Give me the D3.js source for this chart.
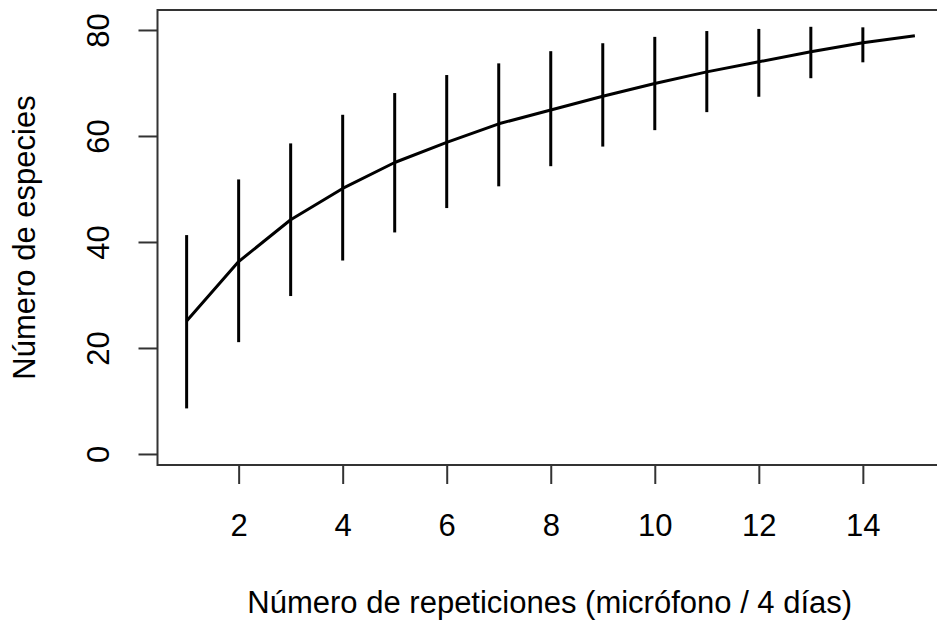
<!DOCTYPE html>
<html>
<head>
<meta charset="utf-8">
<script src="https://cdn.jsdelivr.net/npm/d3@7"></script>
<style>
  html, body { margin: 0; padding: 0; background: #fff; }
  svg { display: block; }
  text { font-family: "Liberation Sans", Arial, sans-serif; fill: #000; }
</style>
</head>
<body>
<svg id="chart" width="937" height="622"></svg>
<script>
// Data
const repetitions = [1, 2, 3, 4, 5, 6, 7, 8, 9, 10, 11, 12, 13, 14, 15];
const richness    = [25.1, 36.3, 44.2, 50.1, 55.0, 58.8, 62.3, 64.9, 67.5, 69.9, 72.1, 74.0, 75.9, 77.6, 78.9];
const upper       = [41.3, 51.8, 58.6, 64.0, 68.1, 71.5, 73.7, 76.0, 77.5, 78.7, 79.8, 80.2, 80.6, 80.5, 78.9];
const lower       = [8.6, 21.1, 29.8, 36.5, 41.8, 46.4, 50.5, 54.3, 58.0, 61.1, 64.5, 67.4, 70.9, 73.9, 78.9];
const xTicks = [2, 4, 6, 8, 10, 12, 14];
const yTicks = [0, 20, 40, 60, 80];
const xLabel = "Número de repeticiones (micrófono / 4 días)";
const yLabel = "Número de especies";

const svg = d3.select("#chart");
const FS = 31;

const ext = 0.04 * (15 - 1);
const x = d3.scaleLinear().domain([1 - ext, 15 + ext]).range([157.5, 944]);
const y = d3.scaleLinear().domain([-2.08, 83.77]).range([465, 10]);

const [x0, x1] = x.range();
const [yb, yt] = y.range();

// Error bars
svg.append("g").selectAll("line")
  .data(repetitions.map((r, i) => ({ r, lo: lower[i], hi: upper[i] })).filter(d => d.hi > d.lo))
  .join("line")
  .attr("x1", d => x(d.r)).attr("x2", d => x(d.r))
  .attr("y1", d => y(d.lo)).attr("y2", d => y(d.hi))
  .attr("stroke", "#000").attr("stroke-width", 3);

// Mean curve
const line = d3.line().x((d, i) => x(repetitions[i])).y(d => y(d));
svg.append("path")
  .datum(richness)
  .attr("d", line)
  .attr("fill", "none")
  .attr("stroke", "#000")
  .attr("stroke-width", 3)
  .attr("stroke-linejoin", "round");

// Box
svg.append("rect")
  .attr("x", x0).attr("y", yt)
  .attr("width", x1 - x0).attr("height", yb - yt)
  .attr("fill", "none").attr("stroke", "#333").attr("stroke-width", 2);

// X axis
const xAxis = svg.append("g")
  .attr("transform", `translate(0,${yb})`)
  .call(d3.axisBottom(x).tickValues(xTicks).tickSize(19).tickSizeOuter(0).tickPadding(0).tickFormat(d3.format("d")));
xAxis.select(".domain").remove();
xAxis.selectAll(".tick line").attr("stroke", "#333").attr("stroke-width", 2);
xAxis.selectAll(".tick text")
  .attr("y", 71).attr("dy", null)
  .style("font-size", FS + "px").style("font-family", '"Liberation Sans", Arial, sans-serif')
  .attr("fill", "#000");

// Y axis
const yAxis = svg.append("g")
  .attr("transform", `translate(${x0},0)`)
  .call(d3.axisLeft(y).tickValues(yTicks).tickSize(19).tickSizeOuter(0).tickPadding(0).tickFormat(d3.format("d")));
yAxis.select(".domain").remove();
yAxis.selectAll(".tick line").attr("stroke", "#333").attr("stroke-width", 2);
yAxis.selectAll(".tick text")
  .attr("x", null).attr("dy", null)
  .attr("text-anchor", "middle")
  .attr("transform", "translate(-49,0) rotate(-90)")
  .style("font-size", FS + "px").style("font-family", '"Liberation Sans", Arial, sans-serif')
  .attr("fill", "#000");

// Axis titles
svg.append("text")
  .attr("x", (x(1) + x(15)) / 2 - 1).attr("y", 613)
  .attr("text-anchor", "middle")
  .style("font-size", FS + "px")
  .text(xLabel);

svg.append("text")
  .attr("transform", `translate(35,${(yb + yt) / 2}) rotate(-90)`)
  .attr("text-anchor", "middle")
  .style("font-size", FS + "px")
  .text(yLabel);
</script>
</body>
</html>
